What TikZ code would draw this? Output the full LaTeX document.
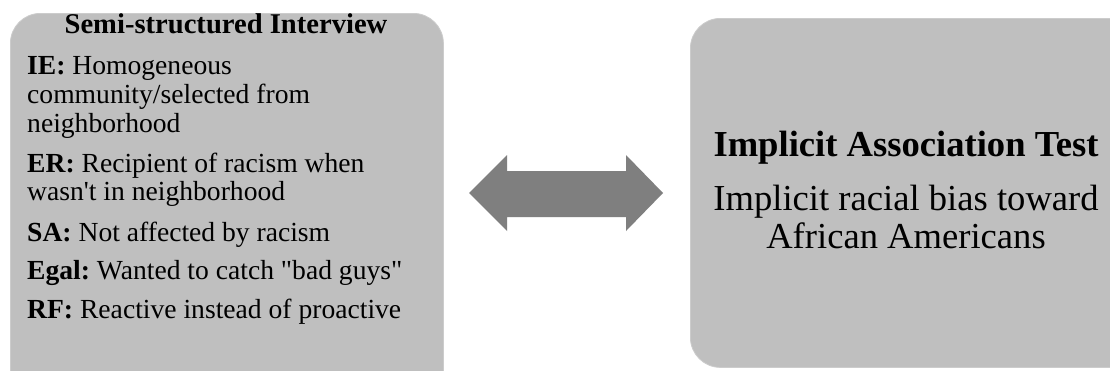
\documentclass[tikz,border=0pt]{standalone}
\usepackage{fontspec}
\setmainfont{Liberation Serif}[Ligatures=TeXOff]
\definecolor{panelgray}{HTML}{BFBFBF}
\definecolor{arrowgray}{HTML}{7F7F7F}
\tikzset{
  panel/.style={fill=panelgray, draw=panelgray!80!white, line width=0.8pt, rounded corners=30pt, inner sep=0pt},
  body/.style={anchor=base west, inner sep=0pt, font=\fontsize{27.6}{28}\selectfont},
  head/.style={anchor=base, inner sep=0pt, font=\fontsize{28.6}{30}\selectfont\bfseries},
  big/.style={anchor=base, inner sep=0pt, font=\fontsize{36.6}{40}\selectfont},
}
\frenchspacing
\begin{document}
\begin{tikzpicture}[x=1pt,y=-1pt]
\useasboundingbox (0,0) rectangle (1110,370);
\clip (0,0) rectangle (1110,370);
\fill[white] (0,0) rectangle (1110,370);

% left panel: interview themes
\node[panel, anchor=north west, minimum width=433pt, minimum height=390pt] (left) at (10,13) {};
\node[head] (lt) at (226,33) {Semi-structured Interview};
\node[body] (ie1) at (27,74)  {\textbf{IE:} Homogeneous};
\node[body] (ie2) at (27,103) {community/selected from};
\node[body] (ie3) at (27,132) {neighborhood};
\node[body] (er1) at (27,172) {\textbf{ER:} Recipient of racism when};
\node[body] (er2) at (27,200) {wasn't in neighborhood};
\node[body] (sa)  at (27,241) {\textbf{SA:} Not affected by racism};
\node[body] (eg)  at (27,279) {\textbf{Egal:} Wanted to catch "bad guys"};
\node[body] (rf)  at (27,318) {\textbf{RF:} Reactive instead of proactive};

% right panel: IAT
\node[panel, anchor=north west, minimum width=450pt, minimum height=349pt] (right) at (690,18) {};
\node[big, font=\fontsize{36.6}{40}\selectfont\bfseries] (rt) at (906,156) {Implicit Association Test};
\node[big] (r2) at (906,210) {Implicit racial bias toward};
\node[big] (r3) at (906,248) {African Americans};

% double-headed block arrow between the panels
\coordinate (tipL) at (469,193);
\coordinate (tipR) at (663,193);
\fill[arrowgray] (tipL) -- (507,155) -- (507,171) -- (626,171) -- (626,155) -- (tipR)
  -- (626,231) -- (626,217) -- (507,217) -- (507,231) -- cycle;
\end{tikzpicture}
\end{document}
